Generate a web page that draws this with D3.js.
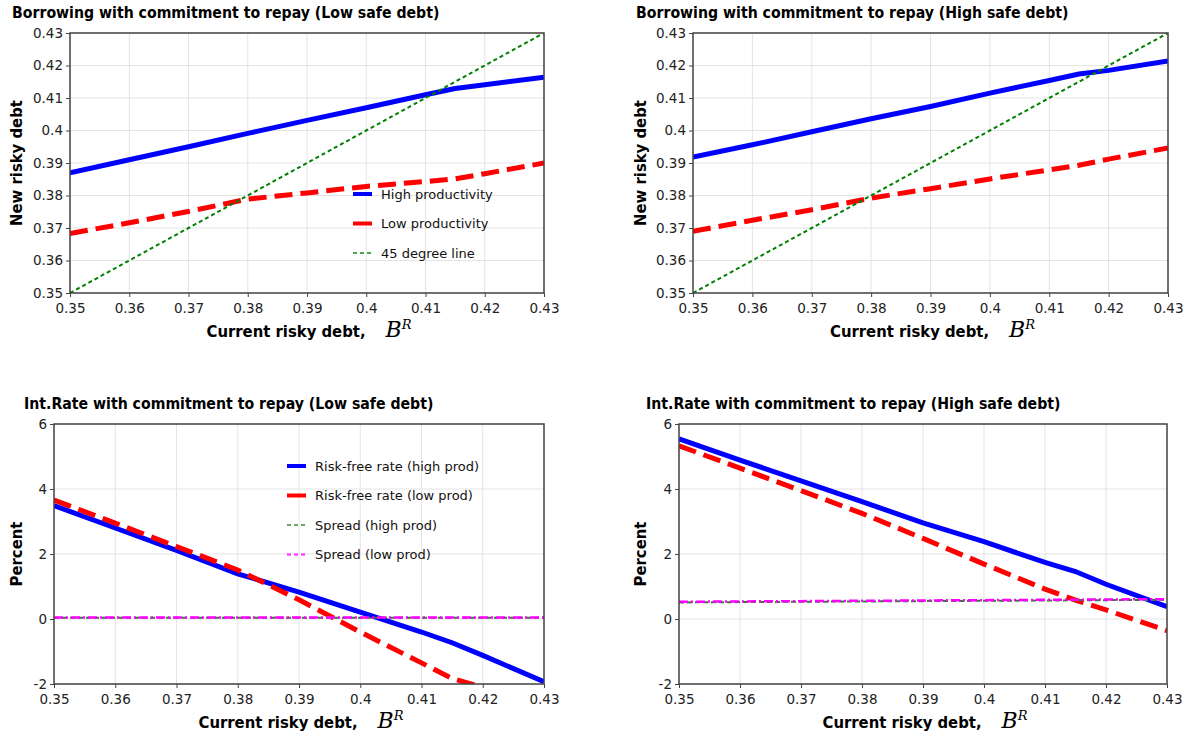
<!DOCTYPE html>
<html>
<head>
<meta charset="utf-8">
<script src="https://cdn.jsdelivr.net/npm/d3@7"></script>
<style>
  body { margin: 0; background: #fff; }
  svg { display: block; font-family: "DejaVu Sans", Verdana, sans-serif; }
</style>
</head>
<body>
<div class="grid"></div>
<script>
// current risky debt grid (x values)
const debtGrid = [0.35, 0.36, 0.37, 0.38, 0.39, 0.40, 0.41, 0.415, 0.42, 0.43];
const xTicks = [0.35, 0.36, 0.37, 0.38, 0.39, 0.40, 0.41, 0.42, 0.43];
const debtTicks = [0.35, 0.36, 0.37, 0.38, 0.39, 0.40, 0.41, 0.42, 0.43];
const rateTicks = [-2, 0, 2, 4, 6];

// borrowing, low safe debt
const newDebtLowSafeHigh = [0.3870, 0.3910, 0.3950, 0.3991, 0.4031, 0.4070, 0.4110, 0.4129, 0.4141, 0.4164];
const newDebtLowSafeLow  = [0.3683, 0.3716, 0.3751, 0.3789, 0.3808, 0.3828, 0.3843, 0.3851, 0.3867, 0.3900];
// borrowing, high safe debt
const newDebtHighSafeHigh = [0.3918, 0.3956, 0.3996, 0.4036, 0.4074, 0.4115, 0.4154, 0.4174, 0.4185, 0.4214];
const newDebtHighSafeLow  = [0.3690, 0.3724, 0.3756, 0.3792, 0.3821, 0.3851, 0.3879, 0.3893, 0.3912, 0.3946];
const degree45 = [0.35, 0.36, 0.37, 0.38, 0.39, 0.40, 0.41, 0.415, 0.42, 0.43];

// interest rates, low safe debt
const rfLowSafeHigh = [3.49, 2.80, 2.11, 1.39, 0.83, 0.21, -0.40, -0.73, -1.12, -1.93];
const rfLowSafeLow  = [3.66, 2.95, 2.23, 1.51, 0.59, -0.40, -1.35, -1.83, -2.10, -2.70];
const spreadLowSafeHigh = [0.04, 0.04, 0.04, 0.04, 0.04, 0.04, 0.04, 0.04, 0.04, 0.04];
const spreadLowSafeLow  = [0.05, 0.05, 0.05, 0.05, 0.05, 0.05, 0.05, 0.05, 0.05, 0.05];
// interest rates, high safe debt
const rfHighSafeHigh = [5.54, 4.89, 4.25, 3.61, 2.96, 2.38, 1.74, 1.46, 1.07, 0.38];
const rfHighSafeLow  = [5.33, 4.64, 3.95, 3.25, 2.48, 1.69, 0.92, 0.58, 0.28, -0.36];
const spreadHighSafeHigh = [0.51, 0.52, 0.53, 0.54, 0.55, 0.56, 0.57, 0.575, 0.58, 0.59];
const spreadHighSafeLow  = [0.53, 0.54, 0.55, 0.56, 0.57, 0.58, 0.59, 0.595, 0.60, 0.61];

const borrowLegend = ["High productivity", "Low productivity", "45 degree line"];
const rateLegend = ["Risk-free rate (high prod)", "Risk-free rate (low prod)", "Spread (high prod)", "Spread (low prod)"];

const styles = {
    high:   {color: "#0000ff", width: 5, dash: null},
    low:    {color: "#ff0000", width: 5, dash: "18,8"},
    deg45:  {color: "#008000", width: 2, dash: "4,3"},
    sHigh:  {color: "#2e7d32", width: 2, dash: "5,3"},
    sLow:   {color: "#ff00ff", width: 2.5, dash: "9,3,2,3"}
};

const W = 1196, H = 740;
const svg = d3.select(".grid").append("svg").attr("width", W).attr("height", H);
const labelFont = "DejaVu Sans Condensed, DejaVu Sans, sans-serif";

let clipId = 0;

function drawPanel(p) {
    const x = d3.scaleLinear().domain([0.35, 0.43]).range([p.left, p.right]);
    const y = d3.scaleLinear().domain(p.yDomain).range([p.bottom, p.top]);
    const g = svg.append("g");

    // grid
    g.selectAll(".vgrid").data(xTicks).enter().append("line")
        .attr("x1", d => x(d)).attr("x2", d => x(d))
        .attr("y1", p.top).attr("y2", p.bottom)
        .style("stroke", "#e4e4e4").style("stroke-width", 1);
    g.selectAll(".hgrid").data(p.yTicks).enter().append("line")
        .attr("x1", p.left).attr("x2", p.right)
        .attr("y1", d => y(d)).attr("y2", d => y(d))
        .style("stroke", "#e4e4e4").style("stroke-width", 1);

    // lines
    const id = "clip" + (clipId++);
    svg.append("clipPath").attr("id", id).append("rect")
        .attr("x", p.left).attr("y", p.top)
        .attr("width", p.right - p.left).attr("height", p.bottom - p.top);
    const line = d3.line().x(d => x(d[0])).y(d => y(d[1]));
    p.series.forEach(s => {
        const st = styles[s.style];
        g.append("path")
            .datum(debtGrid.map((d, i) => [d, s.values[i]]))
            .attr("clip-path", "url(#" + id + ")")
            .attr("d", line)
            .style("fill", "none")
            .style("stroke", st.color)
            .style("stroke-width", st.width)
            .style("stroke-dasharray", st.dash);
    });

    // axes (plain hyphen for negatives, as in the original)
    const fmt = d => String(+d.toFixed(3));
    const xAxis = g.append("g").attr("transform", "translate(0," + p.bottom + ")")
        .call(d3.axisBottom(x).tickValues(xTicks).tickSize(4).tickFormat(fmt));
    const yAxis = g.append("g").attr("transform", "translate(" + p.left + ",0)")
        .call(d3.axisLeft(y).tickValues(p.yTicks).tickSize(4).tickFormat(fmt));
    [xAxis, yAxis].forEach(a => {
        a.select(".domain").remove();
        a.selectAll("line").style("stroke", "#444");
        a.selectAll("text").style("font-size", "13.5px").style("fill", "#222")
            .style("font-family", "DejaVu Sans, sans-serif");
    });
    xAxis.selectAll("text").attr("dy", "0.95em");
    g.append("rect")
        .attr("x", p.left).attr("y", p.top)
        .attr("width", p.right - p.left).attr("height", p.bottom - p.top)
        .style("fill", "none").style("stroke", "#444").style("stroke-width", 1.5);

    // title
    g.append("text")
        .attr("x", p.titleX).attr("y", p.top - 15)
        .style("font-family", labelFont)
        .style("font-weight", "bold").style("font-size", "15.7px")
        .text(p.title);

    // y label
    g.append("text")
        .attr("transform", "translate(" + (p.yLabelX) + "," + ((p.top + p.bottom) / 2) + ") rotate(-90)")
        .attr("text-anchor", "middle")
        .style("font-family", labelFont)
        .style("font-weight", "bold").style("font-size", "16.5px")
        .text(p.yLabel);

    // x label with B^R
    const xl = g.append("text")
        .attr("x", (p.left + p.right) / 2 + 2).attr("y", p.bottom + 44)
        .attr("text-anchor", "middle")
        .style("font-family", labelFont)
        .style("font-weight", "bold").style("font-size", "16.5px");
    xl.append("tspan").text("Current risky debt,");
    xl.append("tspan").attr("dx", 20)
        .style("font-family", "DejaVu Serif, serif").style("font-style", "italic")
        .style("font-weight", "normal").style("font-size", "22px").text("B");
    xl.append("tspan").attr("dy", -8)
        .style("font-family", "DejaVu Serif, serif").style("font-style", "italic")
        .style("font-weight", "normal").style("font-size", "13px").text("R");

    // legend
    if (p.legend) {
        const lg = g.append("g");
        p.legend.forEach((name, i) => {
            const st = styles[p.series[i].style];
            const ly = p.legendY + i * p.legendStep;
            lg.append("line")
                .attr("x1", p.legendX).attr("x2", p.legendX + 19)
                .attr("y1", ly).attr("y2", ly)
                .style("stroke", st.color)
                .style("stroke-width", Math.min(st.width, 4))
                .style("stroke-dasharray", st.dash ? (st.width > 3 ? null : "4,3") : null)
                .style("stroke-opacity", st.width > 3 ? 1 : 0.7);
            lg.append("text")
                .attr("x", p.legendX + 28).attr("y", ly).attr("dy", "0.35em")
                .style("font-size", "13px").style("fill", "#111")
                .text(name);
        });
    }
}

drawPanel({
    left: 70, right: 544, top: 33, bottom: 293,
    yDomain: [0.35, 0.43], yTicks: debtTicks,
    title: "Borrowing with commitment to repay (Low safe debt)", titleX: 12,
    yLabel: "New risky debt", yLabelX: 22,
    series: [
        {values: newDebtLowSafeHigh, style: "high"},
        {values: newDebtLowSafeLow, style: "low"},
        {values: degree45, style: "deg45"}
    ],
    legend: borrowLegend, legendX: 353, legendY: 194, legendStep: 29.5
});

drawPanel({
    left: 693, right: 1168, top: 33, bottom: 293,
    yDomain: [0.35, 0.43], yTicks: debtTicks,
    title: "Borrowing with commitment to repay (High safe debt)", titleX: 636,
    yLabel: "New risky debt", yLabelX: 646,
    series: [
        {values: newDebtHighSafeHigh, style: "high"},
        {values: newDebtHighSafeLow, style: "low"},
        {values: degree45, style: "deg45"}
    ]
});

drawPanel({
    left: 54, right: 544, top: 424, bottom: 684,
    yDomain: [-2, 6], yTicks: rateTicks,
    title: "Int.Rate with commitment to repay (Low safe debt)", titleX: 24,
    yLabel: "Percent", yLabelX: 22,
    series: [
        {values: rfLowSafeHigh, style: "high"},
        {values: rfLowSafeLow, style: "low"},
        {values: spreadLowSafeHigh, style: "sHigh"},
        {values: spreadLowSafeLow, style: "sLow"}
    ],
    legend: rateLegend, legendX: 287, legendY: 466, legendStep: 29.5
});

drawPanel({
    left: 679, right: 1167, top: 424, bottom: 684,
    yDomain: [-2, 6], yTicks: rateTicks,
    title: "Int.Rate with commitment to repay (High safe debt)", titleX: 646,
    yLabel: "Percent", yLabelX: 646,
    series: [
        {values: rfHighSafeHigh, style: "high"},
        {values: rfHighSafeLow, style: "low"},
        {values: spreadHighSafeHigh, style: "sHigh"},
        {values: spreadHighSafeLow, style: "sLow"}
    ]
});
</script>
</body>
</html>
